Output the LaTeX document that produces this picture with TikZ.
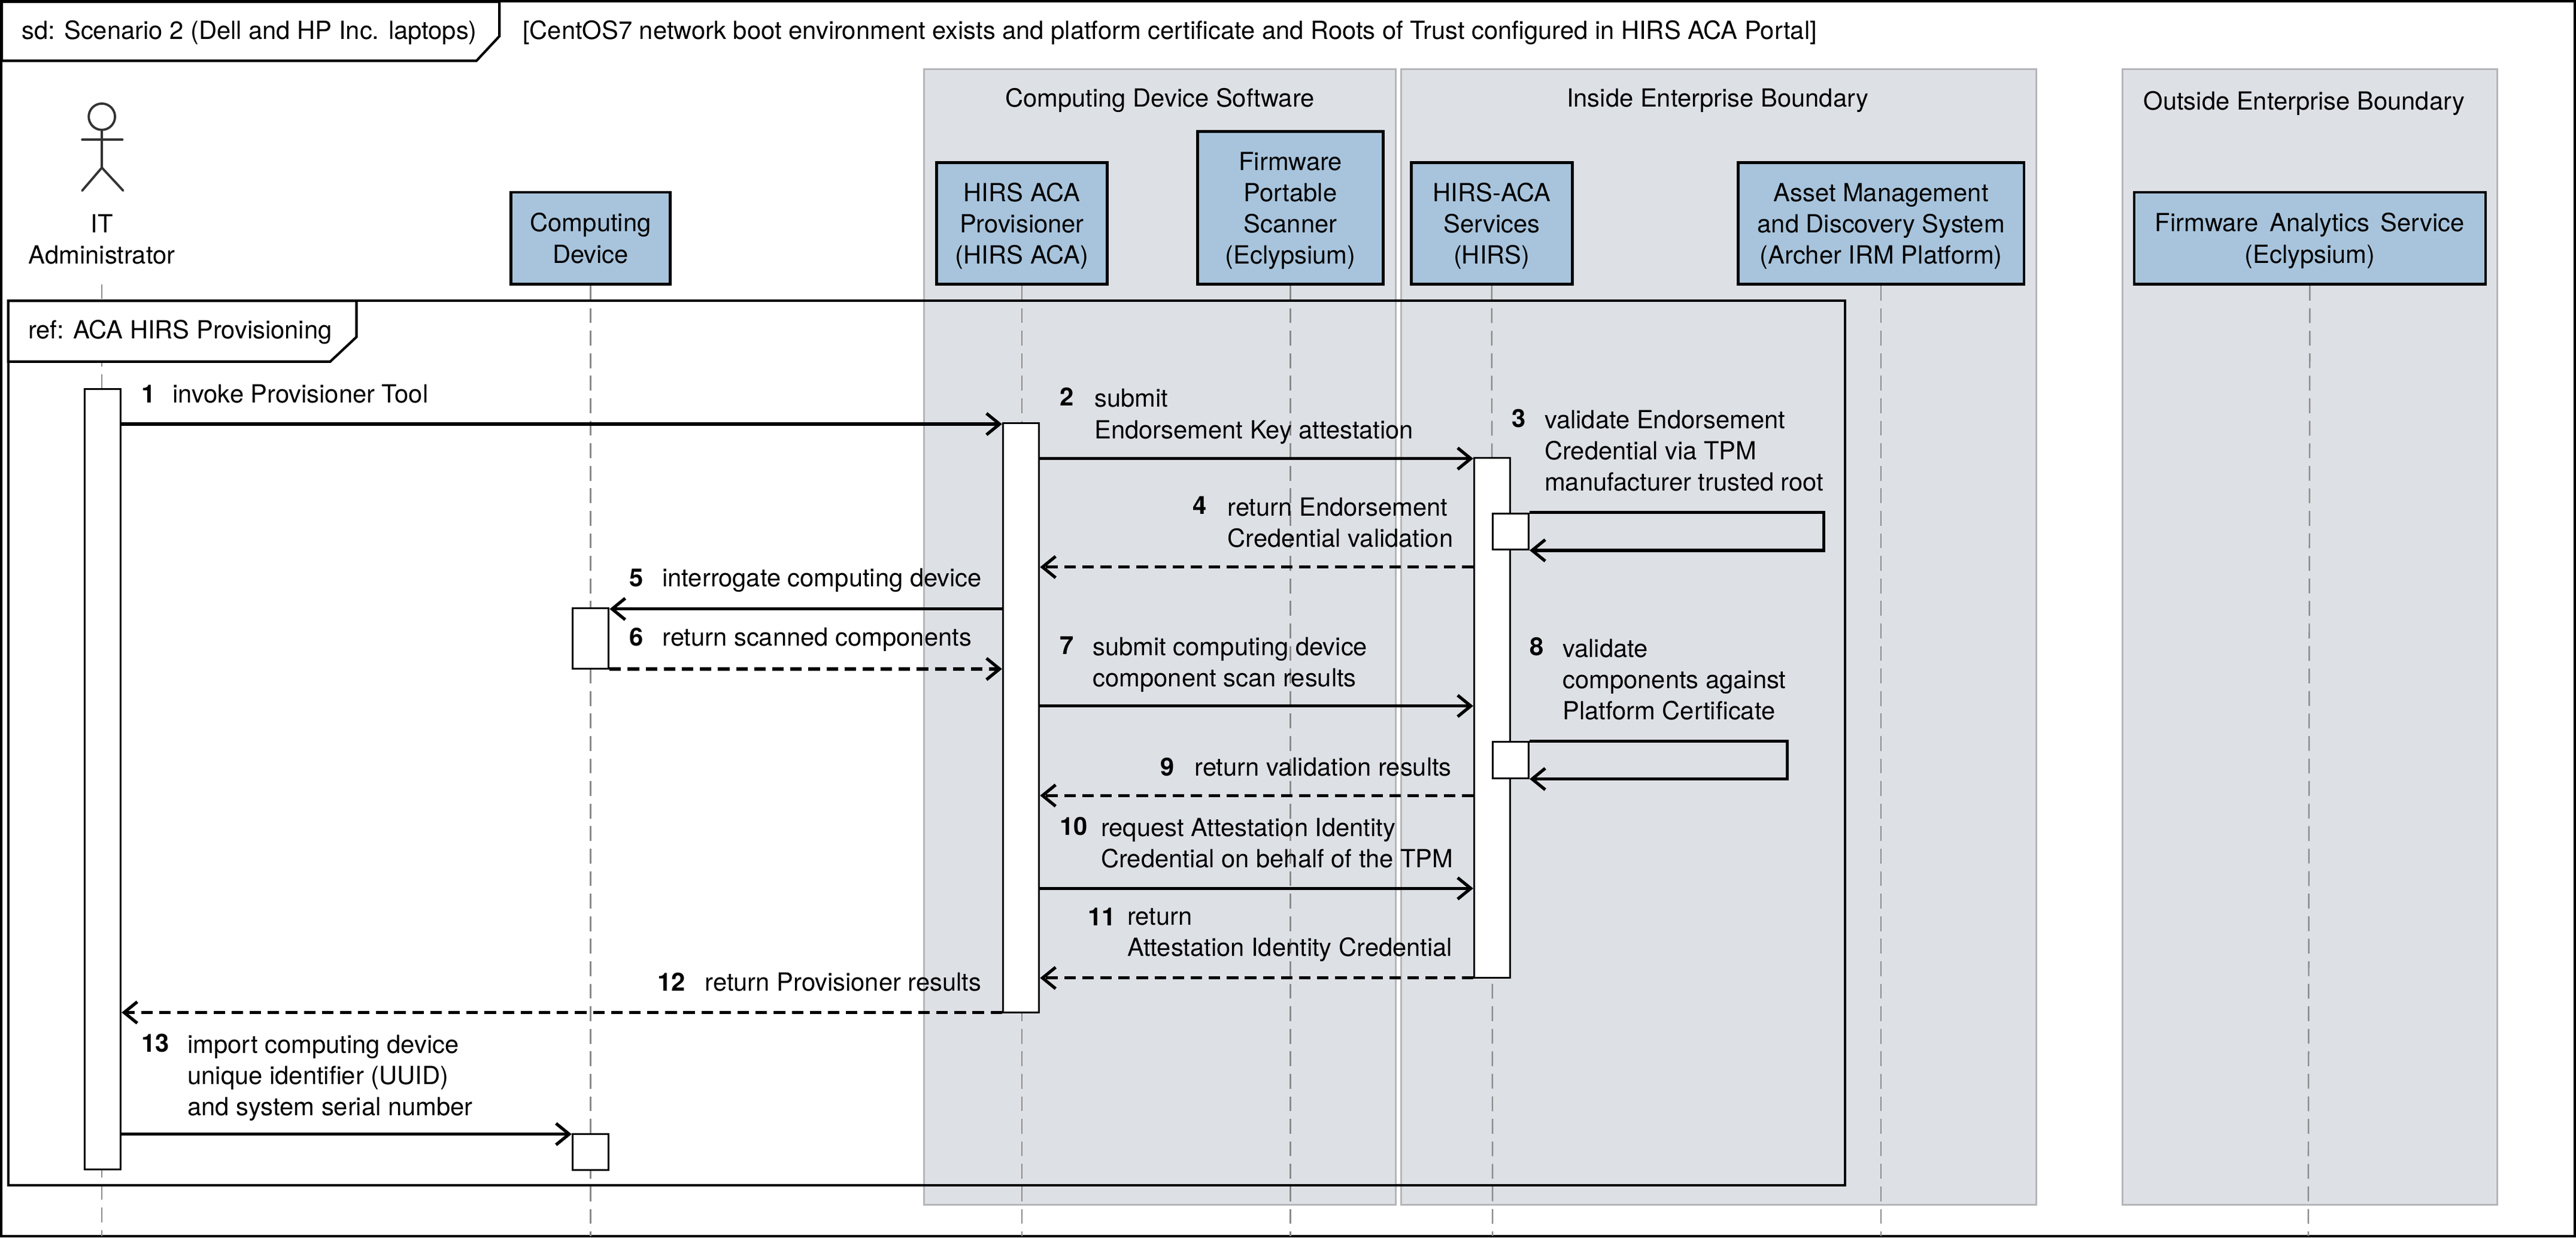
\documentclass[tikz,border=0pt]{standalone}
\usepackage{fontspec}
\setmainfont{TeX Gyre Heros}
\usetikzlibrary{arrows.meta}
\definecolor{boxblue}{HTML}{A8C4DC}
\definecolor{zonegray}{HTML}{DDE0E5}
\definecolor{zoneline}{HTML}{B4B6B9}
\definecolor{lifegray}{HTML}{8C8C8C}
\newcommand{\boxtop}{\rule{0pt}{15pt}}
\tikzset{
    every node/.style={font=\fontsize{15.2}{19}\selectfont},
    zone/.style={rectangle,draw=zoneline,fill=zonegray,line width=1.2pt,inner sep=0pt},
    lifebox/.style={rectangle,draw=black,fill=boxblue,line width=1.7pt,align=center,inner sep=0pt,
        execute at end node={\rule[-4pt]{0pt}{4pt}}},
    lifeline/.style={draw=lifegray,line width=0.9pt,dash pattern=on 9pt off 4.7pt},
    bar/.style={rectangle,draw=black,fill=white,line width=1.1pt,minimum width=22pt,inner sep=0pt},
    msg/.style={->,line width=1.9pt},
    ret/.style={->,line width=1.9pt,dash pattern=on 7pt off 4pt},
    lab/.style={anchor=north west,inner sep=0pt,align=left,yshift=8.5pt,execute at begin node=\strut},
    labm/.style={yshift=-3pt},
    >={Straight Barb[length=8pt,width=13pt]}
}
\begin{document}
\begin{tikzpicture}[x=1pt,y=-1pt]
    \useasboundingbox (0,0) rectangle (1568,752.9);
    \draw[line width=1.5pt] (0.7,0.7) rectangle (1567.3,752.2);

    % enterprise zones
    \begin{scope}[every node/.append style={zone}]
        \node[minimum width=287pt,minimum height=691pt] (zoneA) at (706,387.5) {};
        \node[minimum width=386.5pt,minimum height=691pt] (zoneB) at (1046.2,387.5) {};
        \node[minimum width=228pt,minimum height=691pt] (zoneC) at (1406,387.5) {};
    \end{scope}
    \node (zoneAlab) at (706,61) {Computing Device Software};
    \node (zoneBlab) at (1045.5,61) {Inside Enterprise Boundary};
    \node (zoneClab) at (1402.5,63) {Outside Enterprise Boundary};

    % lifelines
    \coordinate (endIT) at (62,752);
    \coordinate (endCD) at (359.5,752);
    \coordinate (endACA) at (622,752);
    \coordinate (endFW) at (785.5,752);
    \coordinate (endHIRS) at (908.5,752);
    \coordinate (endAM) at (1145,752);
    \coordinate (endFA) at (1405,752);
    \coordinate (topIT) at (62,173);

    % participants
    \begin{scope}[every node/.append style={lifebox}]
        \node[minimum width=97pt,minimum height=56pt] (CD) at (359.5,145) {\boxtop Computing\\Device};
        \node[minimum width=104pt,minimum height=74pt] (ACA) at (622,136) {\boxtop HIRS ACA\\Provisioner\\(HIRS ACA)};
        \node[minimum width=113pt,minimum height=93pt] (FW) at (785.5,126.5) {\boxtop Firmware\\Portable\\Scanner\\(Eclypsium)};
        \node[minimum width=98pt,minimum height=74pt] (HIRS) at (908,136) {\boxtop HIRS-ACA\\Services\\(HIRS)};
        \node[minimum width=174pt,minimum height=74pt] (AM) at (1145,136) {\boxtop Asset Management\\and Discovery System\\(Archer IRM Platform)};
        \node[minimum width=214pt,minimum height=56pt] (FA) at (1406,145) {\boxtop Firmware\hspace{2.6pt} Analytics\hspace{2.6pt} Service\\(Eclypsium)};
    \end{scope}
    \path[lifeline] (topIT) edge (endIT);
    \path[lifeline] (CD.south) edge (endCD);
    \path[lifeline] (ACA.south) edge (endACA);
    \path[lifeline] (FW.south) edge (endFW);
    \path[lifeline] (HIRS.south) edge (endHIRS);
    \path[lifeline] (AM.south) edge (endAM);
    \path[lifeline] (FA.south) edge (endFA);

    % actor
    \begin{scope}[draw=black!80,line width=1.4pt,line cap=round]
        \node[circle,draw=black!80,line width=1.4pt,minimum size=16pt,inner sep=0pt] (head) at (62,71) {};
        \coordinate (hip) at (62,102);
        \coordinate (armL) at (50,85);
        \coordinate (armR) at (74.5,85);
        \coordinate (legL) at (50,116);
        \coordinate (legR) at (75,116);
        \draw (head.south) -- (hip);
        \draw (armL) -- (armR);
        \draw (legL) -- (hip) -- (legR);
    \end{scope}
    \node[align=center,inner sep=0pt] (IT) at (62,145.5) {IT\\Administrator};

    % frames
    \node[draw=black,line width=1.5pt,minimum width=1118pt,minimum height=538pt,inner sep=0pt] (refbox) at (564,452) {};
    \draw[line width=1.5pt,fill=white] (1,1) -- (304,1) -- (304,22) -- (290,37) -- (1,37) -- cycle;
    \draw[line width=1.5pt,fill=white] (5,183) -- (217,183) -- (217,205) -- (201,220) -- (5,220) -- cycle;
    \node[lab] (sdlab) at (13,19) {sd: Scenario 2 (Dell and HP Inc. laptops)};
    \node[lab] (guard) at (318,19) {[CentOS7 network boot environment exists and platform certificate and Roots of Trust configured in HIRS ACA Portal]};
    \node[lab] (reflab) at (17,201) {ref: ACA HIRS Provisioning};

    % activation bars
    \begin{scope}[every node/.append style={bar}]
        \node[minimum height=475pt] (barIT) at (62.5,474) {};
        \node[minimum height=358.5pt] (barACA) at (621.5,436.7) {};
        \node[minimum height=316.5pt] (barHIRS) at (908.3,436.7) {};
        \node[minimum height=37pt] (barCD) at (359.5,388.5) {};
        \node[minimum height=22pt] (barCDb) at (359.5,701) {};
        \node[minimum height=22pt] (selfA) at (919.5,323.3) {};
        \node[minimum height=22pt] (selfB) at (919.5,462.4) {};
    \end{scope}

    % message ends
    \coordinate (s1) at (barIT.east |- 0,258);
    \coordinate (t1) at (barACA.west |- 0,258);
    \coordinate (s2) at (barACA.east |- 0,279);
    \coordinate (t2) at (barHIRS.west |- 0,279);
    \coordinate (s4) at (barHIRS.west |- 0,345);
    \coordinate (t4) at (barACA.east |- 0,345);
    \coordinate (s5) at (barACA.west |- 0,370.5);
    \coordinate (t5) at (barCD.east |- 0,370.5);
    \coordinate (s6) at (barCD.east |- 0,407);
    \coordinate (t6) at (barACA.west |- 0,407);
    \coordinate (s7) at (barACA.east |- 0,429.5);
    \coordinate (t7) at (barHIRS.west |- 0,429.5);
    \coordinate (s9) at (barHIRS.west |- 0,484);
    \coordinate (t9) at (barACA.east |- 0,484);
    \coordinate (s10) at (barACA.east |- 0,540.5);
    \coordinate (t10) at (barHIRS.west |- 0,540.5);
    \coordinate (s11) at (barHIRS.west |- 0,595);
    \coordinate (t11) at (barACA.east |- 0,595);
    \coordinate (s12) at (barACA.west |- 0,616);
    \coordinate (t12) at (barIT.east |- 0,616);
    \coordinate (s13) at (barIT.east |- 0,690);
    \coordinate (t13) at (barCDb.west |- 0,690);
    \coordinate (loopA) at (1110,323);
    \coordinate (loopB) at (1088,462);

    % messages
    \path[msg] (s1) edge (t1);
    \path[msg] (s2) edge (t2);
    \path[ret] (s4) edge (t4);
    \path[msg] (s5) edge (t5);
    \path[ret] (s6) edge (t6);
    \path[msg] (s7) edge (t7);
    \path[ret] (s9) edge (t9);
    \path[msg] (s10) edge (t10);
    \path[ret] (s11) edge (t11);
    \path[ret] (s12) edge (t12);
    \path[msg] (s13) edge (t13);
    \draw[msg] (selfA.north east) -| (loopA) |- (selfA.south east);
    \draw[msg] (selfB.north east) -| (loopB) |- (selfB.south east);

    % message labels
    \begin{scope}[every node/.append style={lab}]
        \node (n1) at (86,240) {\textbf{1}};
        \node (l1) at (105,240) {invoke Provisioner Tool};
        \node (n2) at (645,242) {\textbf{2}};
        \node[labm] (l2) at (666,242) {submit\\Endorsement Key attestation};
        \node (n3) at (920,255) {\textbf{3}};
        \node[labm] (l3) at (940,255) {validate Endorsement\\Credential via TPM\\manufacturer trusted root};
        \node (n4) at (726,308) {\textbf{4}};
        \node[labm] (l4) at (747,308) {return Endorsement\\Credential validation};
        \node (n5) at (383,352) {\textbf{5}};
        \node (l5) at (403,352) {interrogate computing device};
        \node (n6) at (383,388) {\textbf{6}};
        \node (l6) at (403,388) {return scanned components};
        \node (n7) at (645,393) {\textbf{7}};
        \node[labm] (l7) at (665,393) {submit computing device\\component scan results};
        \node (n8) at (931,394) {\textbf{8}};
        \node[labm] (l8) at (951,394) {validate\\components against\\Platform Certificate};
        \node (n9) at (706,467) {\textbf{9}};
        \node (l9) at (727,467) {return validation results};
        \node (n10) at (645,503) {\textbf{10}};
        \node[labm] (l10) at (670,503) {request Attestation Identity\\Credential on behalf of the TPM};
        \node (n11) at (662,558) {\textbf{11}};
        \node[labm] (l11) at (686,558) {return\\Attestation Identity Credential};
        \node (n12) at (400,598) {\textbf{12}};
        \node (l12) at (429,598) {return Provisioner results};
        \node (n13) at (86,635) {\textbf{13}};
        \node[labm] (l13) at (114,635) {import computing device\\unique identifier (UUID)\\and system serial number};
    \end{scope}
\end{tikzpicture}
\end{document}
